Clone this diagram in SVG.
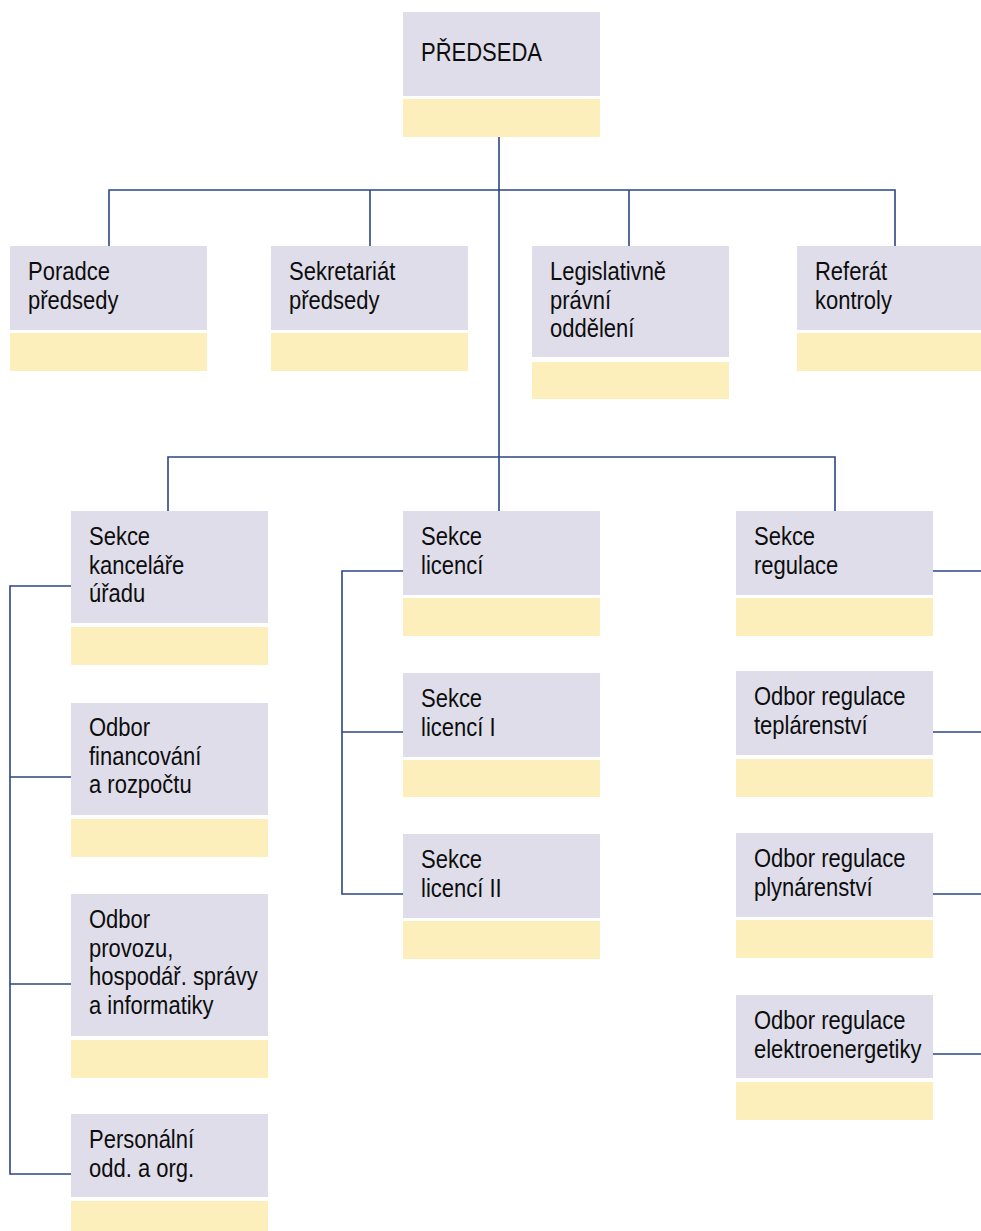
<svg xmlns="http://www.w3.org/2000/svg" width="981" height="1231" viewBox="0 0 981 1231">
<style>
.g{fill:#DFDDEA}
.y{fill:#FCEFBC}
.t{font-family:"Liberation Sans",Arial,sans-serif;font-size:22px;fill:#0d0d0d}
.c{fill:none;stroke:#2C4584;stroke-width:1.6}
</style>
<rect width="981" height="1231" fill="#fff"/>
<g id="connectors" class="c">
<path d="M499,137V511"/>
<path d="M109,246V190H895V246"/>
<path d="M370,190V246"/>
<path d="M629,190V246"/>
<path d="M168,511V457H835V511"/>
<path d="M71,586H10V1174H71"/>
<path d="M10,777H71"/>
<path d="M10,984H71"/>
<path d="M403,571H342V894H403"/>
<path d="M342,732H403"/>
<path d="M933,571H981"/>
<path d="M933,732H981"/>
<path d="M933,894H981"/>
<path d="M933,1054H981"/>
</g>
<g id="predseda"><rect class="g" x="403" y="12" width="197" height="84"/><rect class="y" x="403" y="99" width="197" height="38"/>
<text class="t" transform="translate(421 61) scale(1 1.15)">PŘEDSEDA</text></g>
<g id="poradce"><rect class="g" x="10" y="246" width="197" height="84"/><rect class="y" x="10" y="333" width="197" height="38"/>
<text class="t" transform="translate(28 280) scale(1 1.15)"><tspan x="0">Poradce</tspan><tspan x="0" dy="25">předsedy</tspan></text></g>
<g id="sekretariat"><rect class="g" x="271" y="246" width="197" height="84"/><rect class="y" x="271" y="333" width="197" height="38"/>
<text class="t" transform="translate(289 280) scale(1 1.15)"><tspan x="0">Sekretariát</tspan><tspan x="0" dy="25">předsedy</tspan></text></g>
<g id="legislativne"><rect class="g" x="532" y="246" width="197" height="111"/><rect class="y" x="532" y="362" width="197" height="37"/>
<text class="t" transform="translate(550 280) scale(1 1.15)"><tspan x="0">Legislativně</tspan><tspan x="0" dy="25">právní</tspan><tspan x="0" dy="25">oddělení</tspan></text></g>
<g id="referat"><rect class="g" x="797" y="246" width="197" height="84"/><rect class="y" x="797" y="333" width="197" height="38"/>
<text class="t" transform="translate(815 280) scale(1 1.15)"><tspan x="0">Referát</tspan><tspan x="0" dy="25">kontroly</tspan></text></g>
<g id="sekce-kancelare"><rect class="g" x="71" y="511" width="197" height="112"/><rect class="y" x="71" y="627" width="197" height="38"/>
<text class="t" transform="translate(89 545) scale(1 1.15)"><tspan x="0">Sekce</tspan><tspan x="0" dy="25">kanceláře</tspan><tspan x="0" dy="25">úřadu</tspan></text></g>
<g id="odbor-financovani"><rect class="g" x="71" y="703" width="197" height="112"/><rect class="y" x="71" y="819" width="197" height="38"/>
<text class="t" transform="translate(89 736) scale(1 1.15)"><tspan x="0">Odbor</tspan><tspan x="0" dy="25">financování</tspan><tspan x="0" dy="25">a rozpočtu</tspan></text></g>
<g id="odbor-provozu"><rect class="g" x="71" y="894" width="197" height="142"/><rect class="y" x="71" y="1040" width="197" height="38"/>
<text class="t" transform="translate(89 928) scale(1 1.15)"><tspan x="0">Odbor</tspan><tspan x="0" dy="25">provozu,</tspan><tspan x="0" dy="25">hospodář. správy</tspan><tspan x="0" dy="25">a informatiky</tspan></text></g>
<g id="personalni"><rect class="g" x="71" y="1114" width="197" height="83"/><rect class="y" x="71" y="1201" width="197" height="38"/>
<text class="t" transform="translate(89 1148) scale(1 1.15)"><tspan x="0">Personální</tspan><tspan x="0" dy="25">odd. a org.</tspan></text></g>
<g id="sekce-licenci"><rect class="g" x="403" y="511" width="197" height="84"/><rect class="y" x="403" y="598" width="197" height="38"/>
<text class="t" transform="translate(421 545) scale(1 1.15)"><tspan x="0">Sekce</tspan><tspan x="0" dy="25">licencí</tspan></text></g>
<g id="sekce-licenci-1"><rect class="g" x="403" y="673" width="197" height="84"/><rect class="y" x="403" y="760" width="197" height="37"/>
<text class="t" transform="translate(421 707) scale(1 1.15)"><tspan x="0">Sekce</tspan><tspan x="0" dy="25">licencí I</tspan></text></g>
<g id="sekce-licenci-2"><rect class="g" x="403" y="834" width="197" height="84"/><rect class="y" x="403" y="921" width="197" height="38"/>
<text class="t" transform="translate(421 868) scale(1 1.15)"><tspan x="0">Sekce</tspan><tspan x="0" dy="25">licencí II</tspan></text></g>
<g id="sekce-regulace"><rect class="g" x="736" y="511" width="197" height="84"/><rect class="y" x="736" y="598" width="197" height="38"/>
<text class="t" transform="translate(754 545) scale(1 1.15)"><tspan x="0">Sekce</tspan><tspan x="0" dy="25">regulace</tspan></text></g>
<g id="odbor-teplarenstvi"><rect class="g" x="736" y="671" width="197" height="84"/><rect class="y" x="736" y="759" width="197" height="38"/>
<text class="t" transform="translate(754 705) scale(1 1.15)"><tspan x="0">Odbor regulace</tspan><tspan x="0" dy="25">teplárenství</tspan></text></g>
<g id="odbor-plynarenstvi"><rect class="g" x="736" y="833" width="197" height="84"/><rect class="y" x="736" y="920" width="197" height="38"/>
<text class="t" transform="translate(754 867) scale(1 1.15)"><tspan x="0">Odbor regulace</tspan><tspan x="0" dy="25">plynárenství</tspan></text></g>
<g id="odbor-elektroenergetiky"><rect class="g" x="736" y="995" width="197" height="83"/><rect class="y" x="736" y="1082" width="197" height="38"/>
<text class="t" transform="translate(754 1029) scale(1 1.15)"><tspan x="0">Odbor regulace</tspan><tspan x="0" dy="25">elektroenergetiky</tspan></text></g>
</svg>
